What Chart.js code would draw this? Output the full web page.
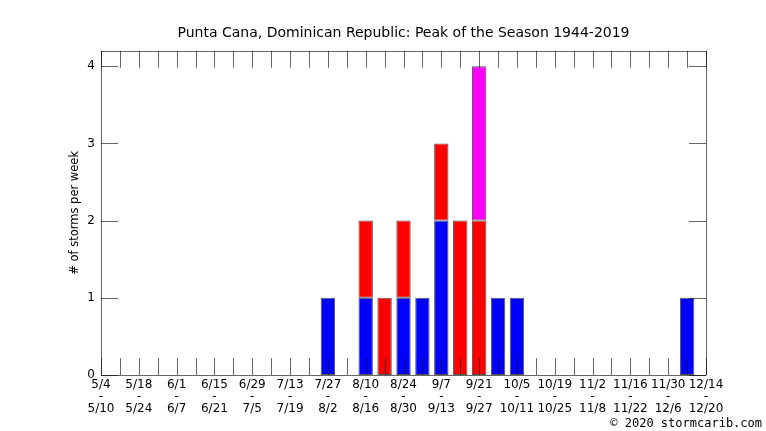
<!DOCTYPE html>
<html>
<head>
<meta charset="utf-8">
<script src="https://cdn.jsdelivr.net/npm/chart.js@4/dist/chart.umd.min.js"></script>
<style>
  html, body { margin: 0; padding: 0; background: #fff; }
  #myChart { display: block; }
</style>
</head>
<body>
<canvas id="myChart" width="766" height="431"></canvas>
<script>
// week start / end dates, 5/4 .. 12/14
let weekStarts = ['5/4', '5/11', '5/18', '5/25', '6/1', '6/8', '6/15', '6/22', '6/29', '7/6', '7/13',
    '7/20', '7/27', '8/3', '8/10', '8/17', '8/24', '8/31', '9/7', '9/14', '9/21', '9/28', '10/5',
    '10/12', '10/19', '10/26', '11/2', '11/9', '11/16', '11/23', '11/30', '12/7', '12/14'];
let weekEnds = ['5/10', '5/17', '5/24', '5/31', '6/7', '6/14', '6/21', '6/28', '7/5', '7/12', '7/19',
    '7/26', '8/2', '8/9', '8/16', '8/23', '8/30', '9/6', '9/13', '9/20', '9/27', '10/4', '10/11',
    '10/18', '10/25', '11/1', '11/8', '11/15', '11/22', '11/29', '12/6', '12/13', '12/20'];

// storms per week, stacked: blue, red, magenta
let blueCounts    = [0,0,0,0,0,0,0,0,0,0,0,0,1,0,1,0,1,1,2,0,0,1,1,0,0,0,0,0,0,0,0,1,0];
let redCounts     = [0,0,0,0,0,0,0,0,0,0,0,0,0,0,1,1,1,0,1,2,2,0,0,0,0,0,0,0,0,0,0,0,0];
let magentaCounts = [0,0,0,0,0,0,0,0,0,0,0,0,0,0,0,0,0,0,0,0,2,0,0,0,0,0,0,0,0,0,0,0,0];

let yTicks = [0, 1, 2, 3, 4];

const FONT = 'DejaVu Sans';

// frame + inward tick marks like the original, plus the copyright line
const framePlugin = {
    id: 'frame',
    afterDatasetsDraw(chart) {
        let ctx = chart.ctx;
        let a = chart.chartArea;
        let xs = chart.scales.x, ys = chart.scales.y;
        ctx.save();
        ctx.strokeStyle = '#000';
        ctx.lineWidth = 0.6;
        ctx.beginPath();
        weekStarts.forEach((w, i) => {
            let x = Math.round(xs.getPixelForValue(i)) + 0.5;
            ctx.moveTo(x, a.bottom);
            ctx.lineTo(x, a.bottom - 17);
            ctx.moveTo(x, a.top);
            ctx.lineTo(x, a.top + 17);
        });
        yTicks.forEach(v => {
            let y = Math.round(ys.getPixelForValue(v)) + 0.5;
            ctx.moveTo(a.left, y);
            ctx.lineTo(a.left + 17, y);
            ctx.moveTo(a.right, y);
            ctx.lineTo(a.right - 17, y);
        });
        ctx.stroke();
        ctx.strokeRect(Math.round(a.left) + 0.5, Math.round(a.top) + 0.5,
            Math.round(a.right - a.left), Math.round(a.bottom - a.top));

        ctx.fillStyle = '#000';
        ctx.font = '12px "DejaVu Sans Mono"';
        ctx.textAlign = 'right';
        ctx.textBaseline = 'middle';
        ctx.fillText('\u00a9 2020 stormcarib.com', 762, 424);
        ctx.restore();
    }
};

function makeSet(label, data, color) {
    return {
        label: label,
        data: data,
        backgroundColor: color,
        borderColor: '#555',
        borderWidth: 1,
        borderSkipped: false,
        barPercentage: 0.76,
        categoryPercentage: 1.0
    };
}

let canvas = document.getElementById('myChart');
var myChart = new Chart(canvas, {
    type: 'bar',
    data: {
        labels: weekStarts,
        datasets: [
            makeSet('blue', blueCounts, 'rgb(0, 0, 255)'),
            makeSet('red', redCounts, 'rgb(255, 0, 0)'),
            makeSet('magenta', magentaCounts, 'rgb(255, 0, 255)')
        ]
    },
    options: {
        responsive: false,
        animation: false,
        layout: { padding: { left: 0, right: 60, top: 0, bottom: 0 } },
        plugins: {
            legend: { display: false },
            tooltip: { enabled: false },
            title: {
                display: true,
                fullSize: false,
                text: 'Punta Cana, Dominican Republic: Peak of the Season 1944-2019',
                color: '#000',
                font: { family: FONT, size: 14, weight: 'normal', lineHeight: 1.2 },
                padding: { top: 25, bottom: 9 }
            }
        },
        scales: {
            x: {
                stacked: true,
                offset: false,
                grid: { display: false, drawTicks: false },
                border: { display: false },
                afterFit: s => { s.height = 56; },
                ticks: {
                    autoSkip: false,
                    maxRotation: 0,
                    minRotation: 0,
                    padding: 4,
                    color: '#000',
                    font: { family: FONT, size: 12, lineHeight: 1.0 },
                    callback: function (val, i) {
                        if (i % 2 !== 0) return '';
                        return [weekStarts[i], '-', weekEnds[i]];
                    }
                }
            },
            y: {
                stacked: true,
                min: 0,
                max: 4.2,
                grid: { display: false, drawTicks: false },
                border: { display: false },
                afterFit: s => { s.width = 101; },
                afterBuildTicks: s => { s.ticks = yTicks.map(v => ({ value: v })); },
                ticks: {
                    padding: 6,
                    color: '#000',
                    font: { family: FONT, size: 12 }
                },
                title: {
                    display: true,
                    text: '# of storms per week',
                    color: '#000',
                    font: { family: FONT, size: 11.5, lineHeight: 1.2 },
                    padding: { top: 68, bottom: 0 }
                }
            }
        }
    },
    plugins: [framePlugin]
});
</script>
</body>
</html>
